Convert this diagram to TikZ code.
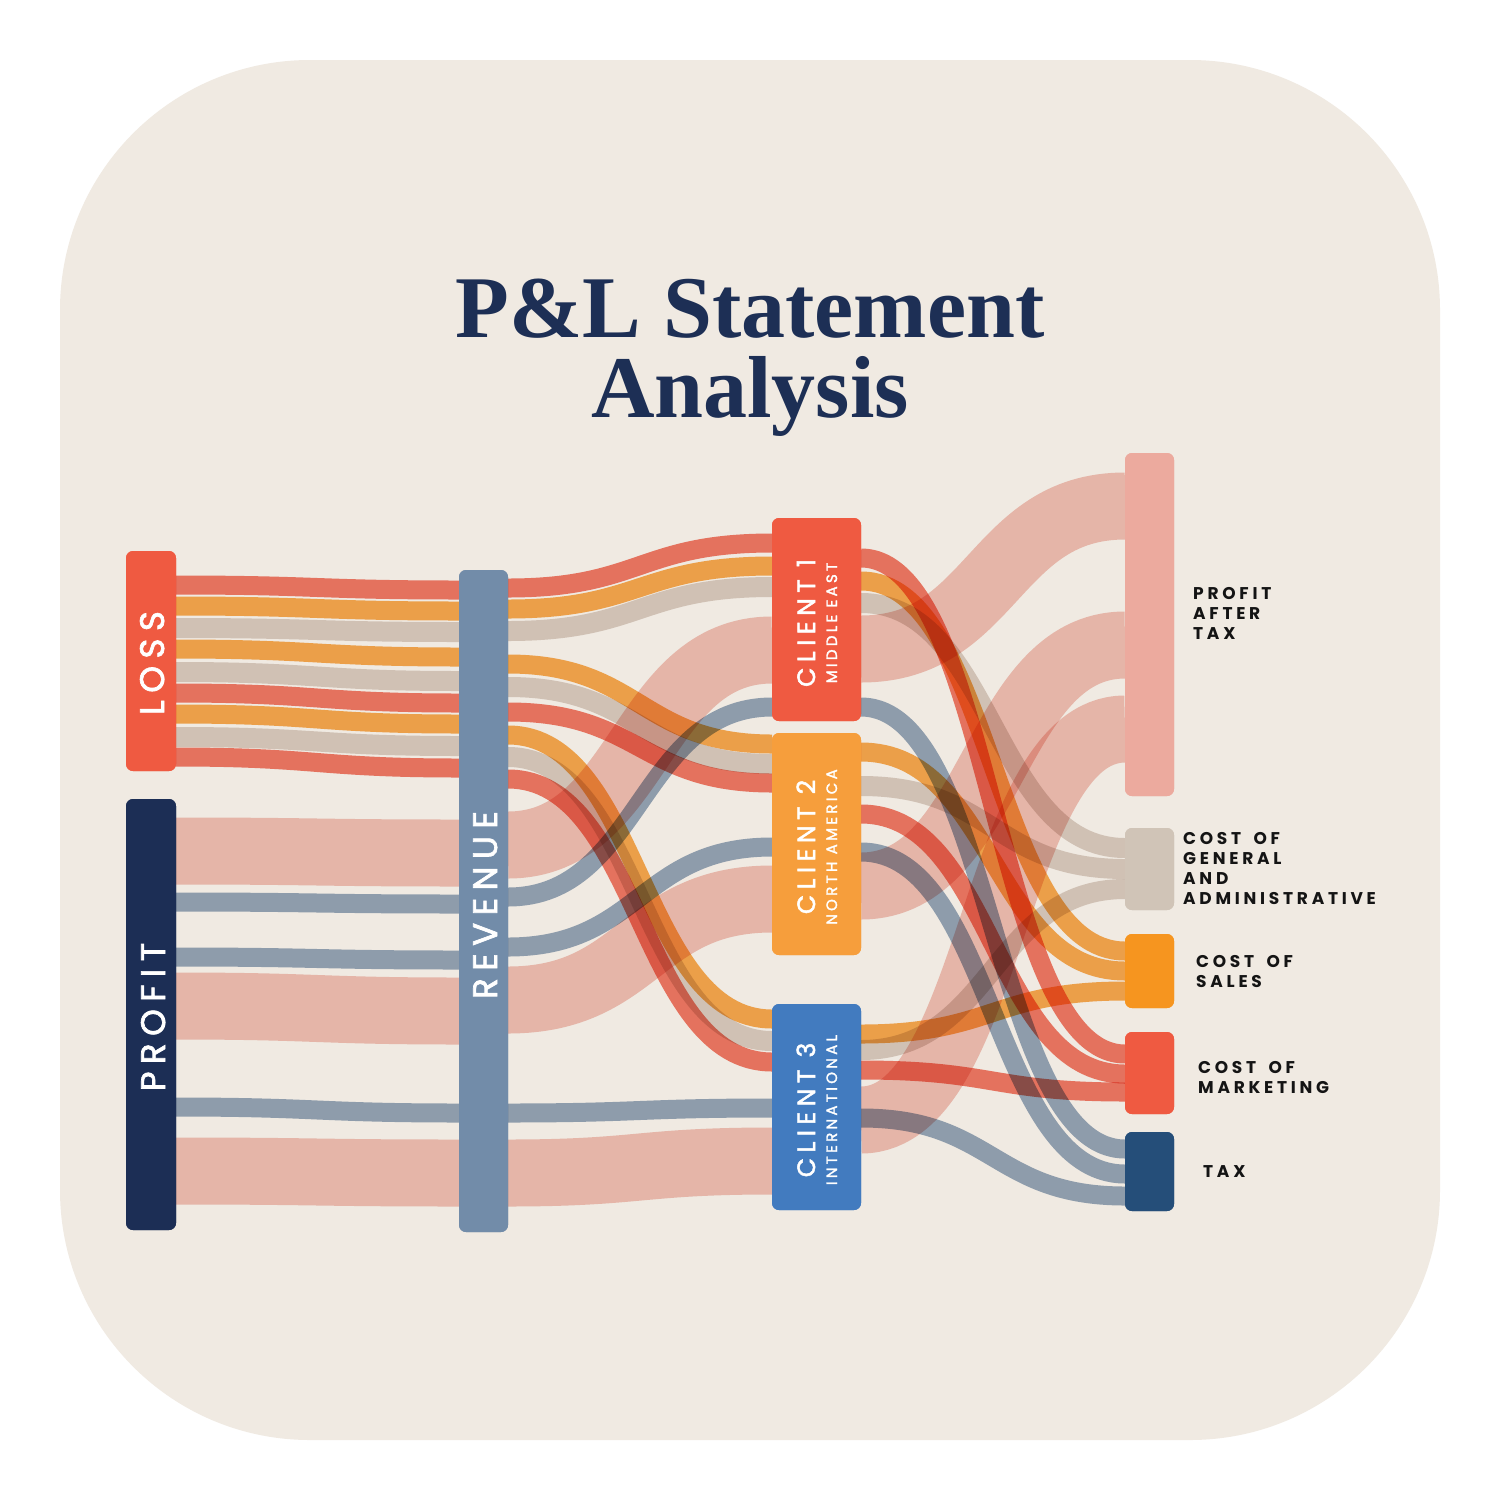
\documentclass[tikz,border=0pt]{standalone}
\usepackage{fontspec}
\setmainfont{Liberation Serif}
\newfontfamily\labfont[LetterSpace=22]{Poppins}
\newfontfamily\labfontw[LetterSpace=22,FakeBold=2]{Poppins}
\usetikzlibrary{calc}
\definecolor{bgc}{RGB}{240,234,226}
\definecolor{navy}{RGB}{29,47,85}
\definecolor{nred}{RGB}{239,90,65}
\definecolor{nprofit}{RGB}{28,46,85}
\definecolor{nrev}{RGB}{114,140,169}
\definecolor{nc2}{RGB}{246,158,60}
\definecolor{nc3}{RGB}{66,123,191}
\definecolor{npat}{RGB}{236,170,158}
\definecolor{nga}{RGB}{208,196,183}
\definecolor{nsales}{RGB}{246,149,31}
\definecolor{ntax}{RGB}{37,78,121}
\definecolor{bred}{RGB}{243,125,107}
\definecolor{borange}{RGB}{250,174,83}
\definecolor{bbeige}{RGB}{221,211,204}
\definecolor{bslate}{RGB}{151,170,194}
\definecolor{bsalmon}{RGB}{244,198,190}
\tikzset{
  box/.style={rounded corners=7pt, inner sep=0pt, outer sep=0pt, anchor=north west},
  biglab/.style={rotate=90, anchor=base, text=white, inner sep=0pt, font=\labfontw\fontsize{34}{34}\selectfont},
  cllab/.style={rotate=90, anchor=base, text=white, inner sep=0pt, font=\labfontw\fontsize{25}{25}\selectfont},
  sublab/.style={rotate=90, anchor=base, text=white, inner sep=0pt, font=\labfontw\fontsize{15}{15}\selectfont},
  rlab/.style={anchor=base west, align=left, inner sep=0pt, text=black!92, font=\labfont\bfseries\fontsize{17}{20}\selectfont},
  ttl/.style={anchor=base, inner sep=0pt, text=navy, font=\bfseries\fontsize{88}{88}\selectfont},
  fred/.style={draw=bred, line width=19pt},
  forange/.style={draw=borange, line width=19pt},
  fbeige/.style={draw=bbeige, line width=20pt},
  fslate/.style={draw=bslate, line width=19pt},
  fsalmon/.style={draw=bsalmon, line width=67pt},
}
\newcommand\flow[5]{%
  \coordinate (fa) at ($(#2.north east)+(0,#3)$);
  \coordinate (fb) at ($(#4.north west)+(0,#5)$);
  \coordinate (fm) at ($(fa)!0.5!(fb)$);
  \draw[#1] (fa) .. controls (fm |- fa) and (fm |- fb) .. (fb);}
\begin{document}
\begin{tikzpicture}[x=1pt,y=-1pt]
\useasboundingbox (0,0) rectangle (1500,1500);
\fill[white] (0,0) rectangle (1500,1500);
\fill[bgc, rounded corners=250pt] (60,60) rectangle (1440,1440);

\node[ttl] (t1) at (750,337) {P\&L Statement};
\node[ttl] (t2) at (750,417) {Analysis};

% nodes
\node[box, fill=nred, minimum width=50pt, minimum height=220pt] (loss) at (126,551) {};
\node[box, fill=nprofit, minimum width=50pt, minimum height=431pt] (profit) at (126,799) {};
\node[box, fill=nrev, minimum width=49pt, minimum height=662pt] (rev) at (459,570) {};
\node[box, fill=nred, minimum width=89pt, minimum height=203pt] (c1) at (772,518) {};
\node[box, fill=nc2, minimum width=89pt, minimum height=222pt] (c2) at (772,733) {};
\node[box, fill=nc3, minimum width=89pt, minimum height=206pt] (c3) at (772,1004) {};
\node[box, fill=npat, minimum width=49pt, minimum height=343pt] (pat) at (1125,453) {};
\node[box, fill=nga, minimum width=49pt, minimum height=82pt] (ga) at (1125,828) {};
\node[box, fill=nsales, minimum width=49pt, minimum height=74pt] (sales) at (1125,934) {};
\node[box, fill=nred, minimum width=49pt, minimum height=82pt] (mkt) at (1125,1032) {};
\node[box, fill=ntax, minimum width=49pt, minimum height=79pt] (tax) at (1125,1132) {};

\begin{scope}[blend mode=multiply]
% loss -> revenue
\flow{fred}{loss}{34}{rev}{20}
\flow{forange}{loss}{55}{rev}{41}
\flow{fbeige}{loss}{77}{rev}{62}
\flow{forange}{loss}{98}{rev}{87}
\flow{fbeige}{loss}{121}{rev}{111}
\flow{fred}{loss}{142}{rev}{133}
\flow{forange}{loss}{163}{rev}{154}
\flow{fbeige}{loss}{186}{rev}{176}
\flow{fred}{loss}{206}{rev}{198}
% profit -> revenue
\flow{fsalmon}{profit}{52}{rev}{283}
\flow{fslate}{profit}{103}{rev}{334}
\flow{fslate}{profit}{158}{rev}{390}
\flow{fsalmon}{profit}{207}{rev}{441}
\flow{fslate}{profit}{308}{rev}{543}
\flow{fsalmon}{profit}{372}{rev}{603}
% revenue -> clients
\flow{fred}{rev}{18}{c1}{25}
\flow{forange}{rev}{39}{c1}{48}
\flow{fbeige}{rev}{61}{c1}{69}
\flow{forange}{rev}{94}{c2}{11}
\flow{fbeige}{rev}{117}{c2}{31}
\flow{fred}{rev}{142}{c2}{50}
\flow{forange}{rev}{165}{c3}{15}
\flow{fbeige}{rev}{187}{c3}{37}
\flow{fred}{rev}{209}{c3}{58}
\flow{fsalmon}{rev}{275}{c1}{132}
\flow{fslate}{rev}{327}{c1}{189}
\flow{fslate}{rev}{377}{c2}{114}
\flow{fsalmon}{rev}{430}{c2}{166}
\flow{fslate}{rev}{543}{c3}{104}
\flow{fsalmon}{rev}{603}{c3}{157}
% clients -> targets
\flow{fsalmon}{c1}{131}{pat}{53}
\flow{fsalmon}{c2}{153}{pat}{192}
\flow{fsalmon}{c3}{116}{pat}{276}
\flow{fbeige}{c1}{85}{ga}{20}
\flow{fbeige}{c2}{53}{ga}{41}
\flow{fbeige}{c3}{46}{ga}{61}
\flow{forange}{c1}{63}{sales}{17}
\flow{forange}{c2}{19}{sales}{37}
\flow{forange}{c3}{30}{sales}{57}
\flow{fred}{c1}{40}{mkt}{22}
\flow{fred}{c2}{81}{mkt}{42}
\flow{fred}{c3}{66}{mkt}{60}
\flow{fslate}{c1}{189}{tax}{17}
\flow{fslate}{c2}{119}{tax}{42}
\flow{fslate}{c3}{114}{tax}{64}
\end{scope}

% redraw nodes on top
\fill[nred, rounded corners=7pt] (loss.north west) rectangle (loss.south east);
\fill[nprofit, rounded corners=7pt] (profit.north west) rectangle (profit.south east);
\fill[nrev, rounded corners=7pt] (rev.north west) rectangle (rev.south east);
\fill[nred, rounded corners=7pt] (c1.north west) rectangle (c1.south east);
\fill[nc2, rounded corners=7pt] (c2.north west) rectangle (c2.south east);
\fill[nc3, rounded corners=7pt] (c3.north west) rectangle (c3.south east);
\fill[npat, rounded corners=7pt] (pat.north west) rectangle (pat.south east);
\fill[nga, rounded corners=7pt] (ga.north west) rectangle (ga.south east);
\fill[nsales, rounded corners=7pt] (sales.north west) rectangle (sales.south east);
\fill[nred, rounded corners=7pt] (mkt.north west) rectangle (mkt.south east);
\fill[ntax, rounded corners=7pt] (tax.north west) rectangle (tax.south east);

% labels on nodes
\node[biglab] (lossL) at (164,663) {LOSS};
\node[biglab] (profitL) at (165,1017) {PROFIT};
\node[biglab] (revL) at (497,905) {REVENUE};
\node[cllab] (c1L) at (815,623) {CLIENT 1};
\node[sublab] (c1S) at (837,623) {MIDDLE EAST};
\node[cllab] (c2L) at (815,847) {CLIENT 2};
\node[sublab] (c2S) at (837,847) {NORTH AMERICA};
\node[cllab] (c3L) at (815,1110) {CLIENT 3};
\node[sublab] (c3S) at (837,1110) {INTERNATIONAL};

% right labels (base anchor = last line)
\node[rlab] (patL) at (1193,639) {PROFIT\\AFTER\\TAX};
\node[rlab] (gaL) at (1183,904) {COST\hspace{5pt} OF\\GENERAL\\AND\\ADMINISTRATIVE};
\node[rlab] (salesL) at (1196,987) {COST\hspace{5pt} OF\\SALES};
\node[rlab] (mktL) at (1198,1093) {COST\hspace{5pt} OF\\MARKETING};
\node[rlab] (taxL) at (1203,1177) {TAX};
\end{tikzpicture}
\end{document}
